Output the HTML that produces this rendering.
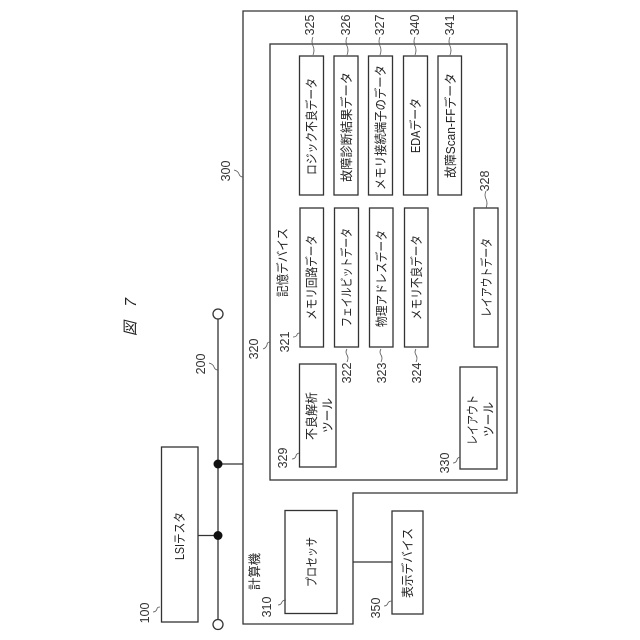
<!DOCTYPE html>
<html>
<head>
<meta charset="utf-8">
<style>
html,body{margin:0;padding:0;background:#fff;width:640px;height:640px;overflow:hidden}
svg{display:block}
text{font-family:"Liberation Sans","Noto Sans CJK JP",sans-serif;fill:#222;font-size:12.5px;dominant-baseline:central}
.n{font-size:12.5px;text-anchor:middle;fill:#333}
.b{fill:none;stroke:#333;stroke-width:1.3}
.l{fill:none;stroke:#555;stroke-width:.8}
</style>
</head>
<body>
<svg width="640" height="640" viewBox="0 0 640 640" xmlns="http://www.w3.org/2000/svg">
<!-- containers -->
<path class="b" d="M243 11H517V493H353V624H243Z"/>
<rect class="b" x="270" y="44" width="237" height="436"/>
<!-- top row -->
<rect class="b" x="299.500" y="56" width="24" height="139"/>
<rect class="b" x="334" y="56" width="24" height="139"/>
<rect class="b" x="368.500" y="56" width="24" height="139"/>
<rect class="b" x="403.500" y="56" width="24" height="139"/>
<rect class="b" x="438" y="56" width="23.500" height="139"/>
<!-- second row -->
<rect class="b" x="300" y="208" width="23.500" height="139"/>
<rect class="b" x="334.500" y="208" width="24" height="139"/>
<rect class="b" x="369.500" y="208" width="23.500" height="139"/>
<rect class="b" x="404.500" y="208" width="23.500" height="139"/>
<rect class="b" x="474" y="208" width="24" height="139"/>
<!-- tools -->
<rect class="b" x="299.500" y="364" width="36.500" height="103"/>
<rect class="b" x="460" y="367" width="37" height="102"/>
<!-- others -->
<rect class="b" x="161.500" y="447" width="36.500" height="175"/>
<rect class="b" x="285" y="510.500" width="52" height="103"/>
<rect class="b" x="392" y="511" width="31" height="103"/>
<!-- bus -->
<path class="b" d="M218 319V619.500M218 464H243M198 535.500H218M353 562H392"/>
<circle class="b" cx="218" cy="314" r="5" fill="#fff"/>
<circle class="b" cx="218" cy="624.500" r="5" fill="#fff"/>
<circle cx="218" cy="464" r="4.500" fill="#111"/>
<circle cx="218" cy="535.500" r="4.500" fill="#111"/>
<!-- leaders -->
<path class="l" d="M313 37q-2 4 0 9q2 4 0 9"/>
<path class="l" d="M347 37q-2 4 0 9q2 4 0 9"/>
<path class="l" d="M380 37q-2 4 0 9q2 4 0 9"/>
<path class="l" d="M415 37q-2 4 0 9q2 4 0 9"/>
<path class="l" d="M450 37q-2 4 0 9q2 4 0 9"/>
<path class="l" d="M486 191q-2 4 0 8q2 4 0 9"/>
<path class="l" d="M347 349q-2 3 0 6q2 3 0 7"/>
<path class="l" d="M381 349q-2 3 0 6q2 3 0 7"/>
<path class="l" d="M416 349q-2 3 0 6q2 3 0 7"/>
<path class="l" d="M300 333q-3 0 -3 2q-1 2 -4 2"/>
<path class="l" d="M299 453q-3 1 -3 3q-1 3 -4 3"/>
<path class="l" d="M460 457q-3 1 -3 3q-1 3 -4 3"/>
<path class="l" d="M286 600q-3 0 -4 2q-1 3 -4 3"/>
<path class="l" d="M392 601q-3 0 -4 2q-1 3 -4 3"/>
<path class="l" d="M160 607q-3 0 -3 2q-1 3 -4 3"/>
<path class="l" d="M243 177q-3 0 -4 -3q-1 -3 -5 -4"/>
<path class="l" d="M218 370q-3 0 -4 -3q-1 -3 -5 -4"/>
<path class="l" d="M270 342q-3 0 -3 3q-1 3 -4 4"/>
<!-- numbers -->
<text class="n" transform="translate(310 25) rotate(-90)">325</text>
<text class="n" transform="translate(346 25) rotate(-90)">326</text>
<text class="n" transform="translate(380 25) rotate(-90)">327</text>
<text class="n" transform="translate(415 25) rotate(-90)">340</text>
<text class="n" transform="translate(450 25) rotate(-90)">341</text>
<text class="n" transform="translate(485 181) rotate(-90)">328</text>
<text class="n" transform="translate(285 342) rotate(-90)">321</text>
<text class="n" transform="translate(347 373) rotate(-90)">322</text>
<text class="n" transform="translate(382 373) rotate(-90)">323</text>
<text class="n" transform="translate(417 373) rotate(-90)">324</text>
<text class="n" transform="translate(283 458) rotate(-90)">329</text>
<text class="n" transform="translate(445 463) rotate(-90)">330</text>
<text class="n" transform="translate(267 607) rotate(-90)">310</text>
<text class="n" transform="translate(376 608) rotate(-90)">350</text>
<text class="n" transform="translate(145 613) rotate(-90)">100</text>
<text class="n" transform="translate(226 171) rotate(-90)">300</text>
<text class="n" transform="translate(201 364) rotate(-90)">200</text>
<text class="n" transform="translate(254 349) rotate(-90)">320</text>
<!-- box labels -->
<text transform="translate(312 175) rotate(-90)" textLength="97" lengthAdjust="spacingAndGlyphs">ロジック不良データ</text>
<text transform="translate(347 182) rotate(-90)" textLength="110" lengthAdjust="spacingAndGlyphs">故障診断結果データ</text>
<text transform="translate(381 190) rotate(-90)" textLength="125" lengthAdjust="spacingAndGlyphs">メモリ接続端子のデータ</text>
<text transform="translate(416 153) rotate(-90)" textLength="55" lengthAdjust="spacingAndGlyphs">EDAデータ</text>
<text transform="translate(451 178) rotate(-90)" textLength="105" lengthAdjust="spacingAndGlyphs">故障Scan-FFデータ</text>
<text transform="translate(312 320) rotate(-90)" textLength="85" lengthAdjust="spacingAndGlyphs">メモリ回路データ</text>
<text transform="translate(347 327) rotate(-90)" textLength="99" lengthAdjust="spacingAndGlyphs">フェイルビットデータ</text>
<text transform="translate(382 327) rotate(-90)" textLength="97" lengthAdjust="spacingAndGlyphs">物理アドレスデータ</text>
<text transform="translate(417 320) rotate(-90)" textLength="85" lengthAdjust="spacingAndGlyphs">メモリ不良データ</text>
<text transform="translate(487 317) rotate(-90)" textLength="79" lengthAdjust="spacingAndGlyphs">レイアウトデータ</text>
<text transform="translate(312 440) rotate(-90)" textLength="48" lengthAdjust="spacingAndGlyphs">不良解析</text>
<text transform="translate(328 433) rotate(-90)" textLength="35" lengthAdjust="spacingAndGlyphs">ツール</text>
<text transform="translate(473 445) rotate(-90)" textLength="50" lengthAdjust="spacingAndGlyphs">レイアウト</text>
<text transform="translate(489 437) rotate(-90)" textLength="35" lengthAdjust="spacingAndGlyphs">ツール</text>
<text transform="translate(180 560) rotate(-90)" textLength="48" lengthAdjust="spacingAndGlyphs">LSIテスタ</text>
<text transform="translate(312 587) rotate(-90)" textLength="50" lengthAdjust="spacingAndGlyphs">プロセッサ</text>
<text transform="translate(408 598) rotate(-90)" textLength="70" lengthAdjust="spacingAndGlyphs">表示デバイス</text>
<text transform="translate(255 590) rotate(-90)" textLength="37" lengthAdjust="spacingAndGlyphs">計算機</text>
<text transform="translate(283 297) rotate(-90)" textLength="69" lengthAdjust="spacingAndGlyphs">記憶デバイス</text>
<!-- figure title -->
<text style="font-size:15px" transform="translate(131 335) rotate(-90) skewX(-14)">図</text>
<text style="font-size:16px" transform="translate(131 307) rotate(-90) skewX(-14)">7</text>
</svg>
</body>
</html>
